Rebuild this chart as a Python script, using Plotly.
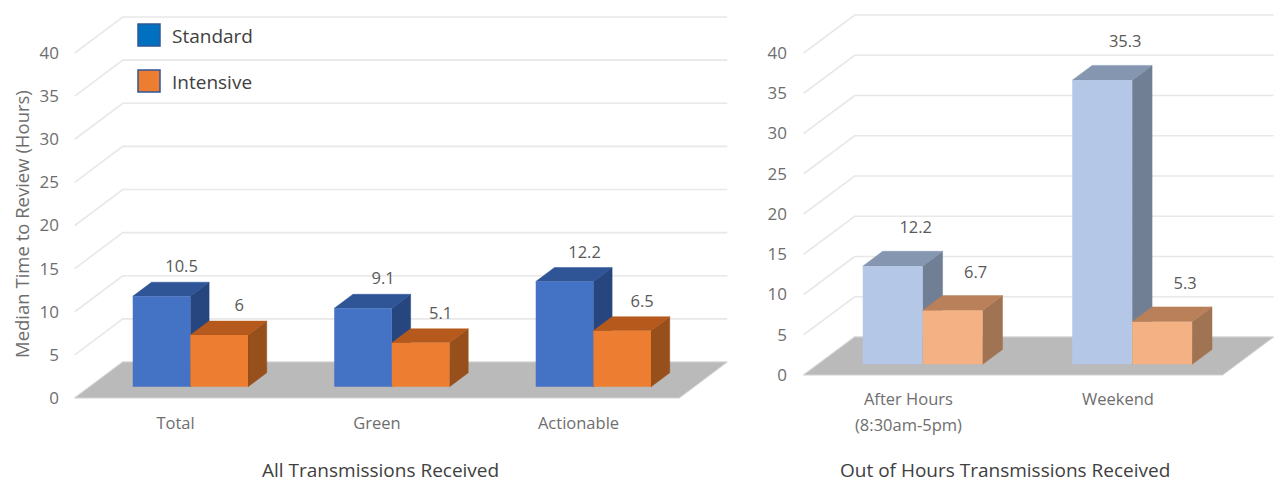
import plotly.graph_objects as go

# Chart data
categories_all = ["Total", "Green", "Actionable"]
standard_all = [10.5, 9.1, 12.2]
intensive_all = [6, 5.1, 6.5]

categories_ooh = ["After Hours", "Weekend"]
standard_ooh = [12.2, 35.3]
intensive_ooh = [6.7, 5.3]

value_ticks = [0, 5, 10, 15, 20, 25, 30, 35, 40]

FIG_W, FIG_H = 1274, 484
FONT = "Open Sans"
AXIS_GREY = "#6e6e6e"
TEXT_DARK = "#404040"
GRID = "#e8e8e8"
FLOOR = "#bababa"


def px_x(p):
    return p / FIG_W


def px_y(p):
    return 1 - p / FIG_H


fig = go.Figure()


def add_panel(xa, ya, cats, first, second, geom, first_cols, second_cols):
    """Draw one oblique 3-D column panel on the axes pair (xa, ya)."""
    kx, ky = geom["kx"], geom["ky"]
    d1, d2 = geom["d1"], geom["d2"]
    w = geom["bar_w"]
    n = len(cats)
    xmin, xmax = -0.5, n - 0.5
    common = dict(xaxis=xa, yaxis=ya, showlegend=False, hoverinfo="skip")

    def project(c, v, d):
        return c + kx * d, v + ky * d

    # back-wall gridlines with their diagonal run along the side wall
    gx, gy = [], []
    for t in value_ticks:
        for c, d in ((xmin, 0), (xmin, 1), (xmax, 1)):
            px_, py_ = project(c, t, d)
            gx.append(px_)
            gy.append(py_)
        gx.append(None)
        gy.append(None)
    fig.add_trace(go.Scatter(x=gx, y=gy, mode="lines", zorder=0,
                             line=dict(color=GRID, width=1.6), **common))

    # floor
    fx, fy = zip(*[project(c, 0, d) for c, d in
                   ((xmin, 0), (xmax, 0), (xmax, 1), (xmin, 1), (xmin, 0))])
    fig.add_trace(go.Scatter(x=fx, y=fy, mode="lines", fill="toself", zorder=1,
                             fillcolor=FLOOR, line=dict(color="#d2d2d2", width=1),
                             **common))

    def column_series(values, left_offset, cols, z):
        front, top, side = cols
        centers = [i + left_offset + w / 2 + kx * d1 for i in range(n)]
        # side and top faces come from the same values as the front face
        sx, sy, tx, ty = [], [], [], []
        for i, v in enumerate(values):
            l = i + left_offset
            r = l + w
            for c, val, d in ((r, 0, d1), (r, v, d1), (r, v, d2), (r, 0, d2), (r, 0, d1)):
                a, b = project(c, val, d)
                sx.append(a)
                sy.append(b)
            sx.append(None)
            sy.append(None)
            for c, d in ((l, d1), (r, d1), (r, d2), (l, d2), (l, d1)):
                a, b = project(c, v, d)
                tx.append(a)
                ty.append(b)
            tx.append(None)
            ty.append(None)
        fig.add_trace(go.Scatter(x=sx, y=sy, mode="lines", fill="toself", zorder=z,
                                 fillcolor=side, line=dict(color=side, width=0.5), **common))
        fig.add_trace(go.Scatter(x=tx, y=ty, mode="lines", fill="toself", zorder=z,
                                 fillcolor=top, line=dict(color=top, width=0.5), **common))
        fig.add_trace(go.Bar(x=centers, y=values, width=w, base=[ky * d1] * n, zorder=z + 1,
                             marker=dict(color=front, line=dict(width=0)), **common))
        # value labels float above the back edge of the column
        fig.add_trace(go.Scatter(
            x=[c + geom["lab_dx"] for c in centers],
            y=[v + ky * d1 + geom["lab_dy"] for v in values],
            text=[f"{v:g}" for v in values],
            mode="text", textposition="middle center", cliponaxis=False, zorder=9,
            textfont=dict(family=FONT, size=16.5, color="#595959"), **common))

    column_series(first, -w, first_cols, 2)
    column_series(second, 0, second_cols, 4)


BLUE = ("#4472C4", "#2F5597", "#27457F")
ORANGE = ("#ED7D31", "#B55A1C", "#974F1B")
BLUE_PALE = ("#B4C7E7", "#8496B0", "#707F94")
ORANGE_PALE = ("#F4B183", "#B98059", "#A07352")

# pixel calibration of each panel: zero line, pixels per hour, category spacing
left = dict(y0=398, unit=8.625, spacing=201.5, cat0=175.5, depth_x=48, depth_y=36,
            x_start=60, x_end=735, y_bottom=411)
right = dict(y0=375, unit=8.05, spacing=209.5, cat0=908.4, depth_x=51, depth_y=38,
             x_start=788, x_end=1274, y_bottom=387)

for name, p, xa, ya, cats, a, b, cols_a, cols_b, d1, lab in (
    ("", left, "x", "y", categories_all, standard_all, intensive_all, BLUE, ORANGE, 0.31, (20, 28)),
    ("2", right, "x2", "y2", categories_ooh, standard_ooh, intensive_ooh, BLUE_PALE, ORANGE_PALE, 0.28, (23, 37)),
):
    kx = p["depth_x"] / p["spacing"]
    ky = p["depth_y"] / p["unit"]
    geom = dict(kx=kx, ky=ky, d1=d1, d2=d1 + 0.39, bar_w=0.286,
                lab_dx=lab[0] / p["spacing"], lab_dy=lab[1] / p["unit"])
    add_panel(xa, ya, cats, a, b, geom, cols_a, cols_b)
    fig.update_layout({
        "xaxis" + name: dict(
            domain=[px_x(p["x_start"]), px_x(p["x_end"])],
            range=[(p["x_start"] - p["cat0"]) / p["spacing"], (p["x_end"] - p["cat0"]) / p["spacing"]],
            tickmode="array", tickvals=list(range(len(cats))), ticktext=cats,
            showgrid=False, zeroline=False, showline=False, ticks="",
            tickfont=dict(family=FONT, size=16.5, color=AXIS_GREY), anchor="y" + name),
        "yaxis" + name: dict(
            domain=[px_y(p["y_bottom"]), 1],
            range=[(p["y0"] - p["y_bottom"]) / p["unit"], p["y0"] / p["unit"]],
            tickmode="array", tickvals=value_ticks,
            showgrid=False, zeroline=False, showline=False, ticks="",
            tickfont=dict(family=FONT, size=17, color=AXIS_GREY), anchor="x" + name),
    })


def text_at(x, y, s, size, color, angle=0):
    return dict(x=px_x(x), y=px_y(y), xref="paper", yref="paper", text=s, showarrow=False,
                textangle=angle, xanchor="center", yanchor="middle",
                font=dict(family=FONT, size=size, color=color))


def swatch(x0, y0, x1, y1, fill, edge):
    return dict(type="rect", xref="paper", yref="paper",
                x0=px_x(x0), x1=px_x(x1), y0=px_y(y0), y1=px_y(y1),
                fillcolor=fill, line=dict(color=edge, width=1.5))


fig.update_layout(
    width=FIG_W, height=FIG_H, autosize=False,
    margin=dict(l=0, r=0, t=0, b=0),
    paper_bgcolor="white", plot_bgcolor="white",
    barmode="overlay", showlegend=False,
    annotations=[
        text_at(21, 224, "Median Time to Review (Hours)", 18.5, AXIS_GREY, -90),
        text_at(380, 470, "All Transmissions Received", 19, TEXT_DARK),
        text_at(1005, 470, "Out of Hours Transmissions Received", 19, TEXT_DARK),
        text_at(908, 424, "(8:30am-5pm)", 16.5, AXIS_GREY),
        text_at(212, 36, "Standard", 19, TEXT_DARK),
        text_at(212, 82, "Intensive", 19, TEXT_DARK),
    ],
    shapes=[
        swatch(138, 24, 160, 46, "#0070C0", "#2F5597"),
        swatch(138, 70, 160, 92, "#ED7D31", "#2F5597"),
    ],
)

fig.write_html("out.html", config=dict(displayModeBar=False))
